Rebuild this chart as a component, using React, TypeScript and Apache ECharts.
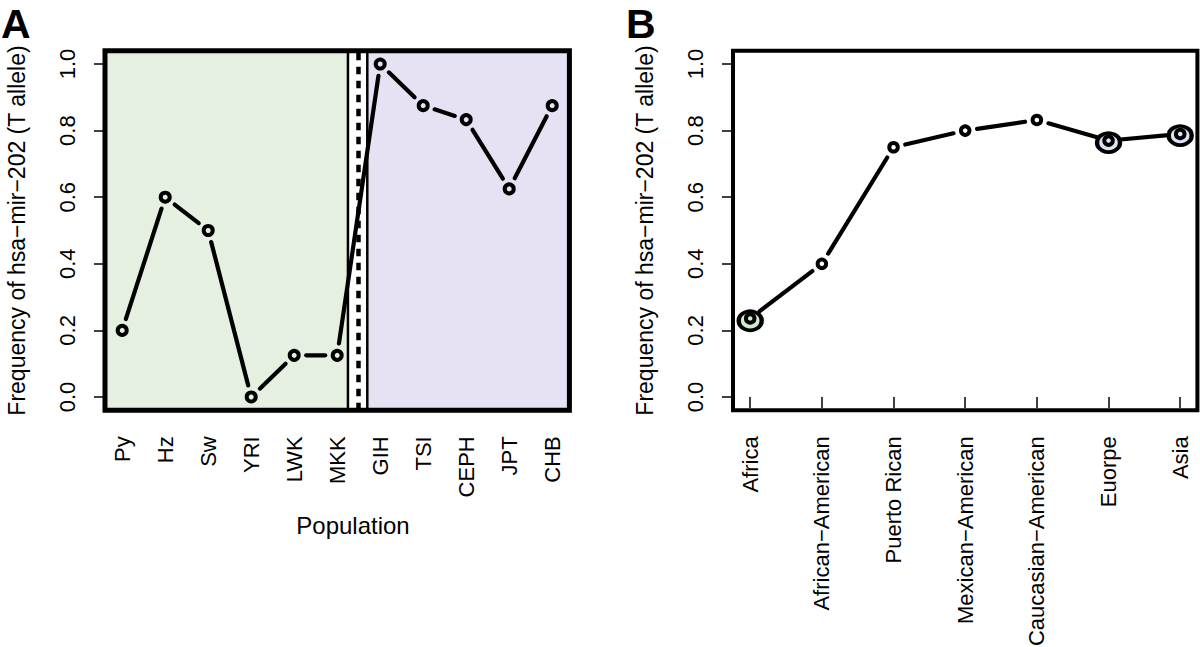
import React, { useEffect, useRef } from "react";
import * as echarts from "echarts";

// ---------- Data ----------
const populations = ["Py", "Hz", "Sw", "YRI", "LWK", "MKK", "GIH", "TSI", "CEPH", "JPT", "CHB"];
const populationFreq = [0.2, 0.6, 0.5, 0.0, 0.125, 0.125, 1.0, 0.875, 0.833, 0.625, 0.875];

const regions = ["Africa", "African\u2212American", "Puerto Rican", "Mexican\u2212American", "Caucasian\u2212American", "Euorpe", "Asia"];
const regionFreq = [0.236, 0.4, 0.75, 0.8, 0.832, 0.77, 0.79];
// highlighted (large) markers
const highlightIdx = [0, 5, 6];
const highlightFreq = [0.229, 0.764, 0.785];
const highlightFill = ["#CDEECB", "#DDE1F4", "#DDE1F4"];

const yTicks = [0, 0.2, 0.4, 0.6, 0.8, 1.0];

// region split in panel A (x in category units)
const africaEnd = 6.25;
const nonAfricaStart = 6.7;
const splitLine = 6.5;

// ---------- Layout ----------
const FONT = "Liberation Sans, Arial, Helvetica, sans-serif";
const GA = { left: 105, top: 50.7, width: 464.4, height: 359.6 };
const GB = { left: 733, top: 50.7, width: 464.4, height: 359.6 };
const GAP = 12;

function segRender(lineWidth: number) {
  return (params: any, api: any) => {
    const p1 = api.coord([api.value(0), api.value(1)]);
    const p2 = api.coord([api.value(2), api.value(3)]);
    const dx = p2[0] - p1[0];
    const dy = p2[1] - p1[1];
    const len = Math.hypot(dx, dy);
    if (len <= 2 * GAP) return null;
    const ux = dx / len;
    const uy = dy / len;
    return {
      type: "line",
      shape: { x1: p1[0] + ux * GAP, y1: p1[1] + uy * GAP, x2: p2[0] - ux * GAP, y2: p2[1] - uy * GAP },
      style: { stroke: "#000", lineWidth, lineCap: "round" },
    };
  };
}

function segments(vals: number[]) {
  const out: number[][] = [];
  for (let i = 0; i < vals.length - 1; i++) out.push([i + 1, vals[i], i + 2, vals[i + 1]]);
  return out;
}

const yAxisBase = (gridIndex: number) => ({
  type: "value",
  gridIndex,
  min: -0.04,
  max: 1.04,
  axisLine: { show: false },
  splitLine: { show: false },
  axisTick: { show: true, customValues: yTicks, length: 11, lineStyle: { color: "#000", width: 1.5 } },
  axisLabel: {
    customValues: yTicks,
    rotate: 90,
    margin: 27,
    color: "#000",
    fontSize: 22,
    fontFamily: FONT,
    formatter: (v: number) => v.toFixed(1),
  },
  name: "Frequency of hsa\u2212mir\u2212202 (T allele)",
  nameLocation: "middle",
  nameGap: 77,
  nameRotate: 90,
  nameTextStyle: { color: "#000", fontSize: 23, fontFamily: FONT },
});

const hollowPoint = { color: "rgba(0,0,0,0)", borderColor: "#000", borderWidth: 4, opacity: 1 };

export default function App() {
  const ref = useRef<HTMLDivElement>(null);
  useEffect(() => {
    if (!ref.current) return;
    const chart = echarts.init(ref.current, null, { renderer: "svg" });
    const xA = populations.map((_, i) => i + 1);
    const xB = regions.map((_, i) => i + 1);
    const option: any = {
      animation: false,
      backgroundColor: "#fff",
      grid: [
        { ...GA, containLabel: false, outerBoundsMode: "none" },
        { ...GB, containLabel: false, outerBoundsMode: "none" },
      ],
      xAxis: [
        {
          type: "value",
          gridIndex: 0,
          min: 0.6,
          max: 11.4,
          axisLine: { show: false },
          splitLine: { show: false },
          axisTick: { show: true, customValues: xA, length: 11, lineStyle: { color: "#000", width: 1.5 } },
          axisLabel: {
            customValues: xA,
            rotate: 90,
            margin: 26,
            color: "#000",
            fontSize: 22,
            fontFamily: FONT,
            formatter: (v: number) => populations[Math.round(v) - 1],
          },
        },
        {
          type: "value",
          gridIndex: 1,
          min: 0.76,
          max: 7.24,
          axisLine: { show: false },
          splitLine: { show: false },
          axisTick: { show: true, customValues: xB, length: 11, lineStyle: { color: "#000", width: 1.5 } },
          axisLabel: {
            customValues: xB,
            rotate: 90,
            margin: 26,
            color: "#000",
            fontSize: 22,
            fontFamily: FONT,
            formatter: (v: number) => regions[Math.round(v) - 1],
          },
        },
      ],
      yAxis: [yAxisBase(0), yAxisBase(1)],
      series: [
        {
          type: "scatter",
          xAxisIndex: 0,
          yAxisIndex: 0,
          data: [],
          silent: true,
          z: 1,
          markArea: {
            silent: true,
            data: [
              [
                { xAxis: 0.6, yAxis: -0.04, itemStyle: { color: "#E5F0E0", borderColor: "#000", borderWidth: 2.5, opacity: 1 } },
                { xAxis: africaEnd, yAxis: 1.04 },
              ],
              [
                { xAxis: nonAfricaStart, yAxis: -0.04, itemStyle: { color: "#E6E1F3", borderColor: "#000", borderWidth: 2.5, opacity: 1 } },
                { xAxis: 11.4, yAxis: 1.04 },
              ],
            ],
          },
          markLine: {
            silent: true,
            symbol: "none",
            label: { show: false },
            lineStyle: { color: "#000", width: 4.5, type: [7.5, 6.5], opacity: 1 },
            data: [{ xAxis: splitLine }],
          },
        },
        {
          type: "custom",
          xAxisIndex: 0,
          yAxisIndex: 0,
          z: 3,
          silent: true,
          clip: false,
          dimensions: ["x1", "y1", "x2", "y2"],
          encode: { x: [0, 2], y: [1, 3] },
          renderItem: segRender(4.2),
          data: segments(populationFreq),
        },
        {
          type: "scatter",
          xAxisIndex: 0,
          yAxisIndex: 0,
          z: 4,
          silent: true,
          symbol: "circle",
          symbolSize: 9,
          itemStyle: hollowPoint,
          data: populationFreq.map((v, i) => [i + 1, v]),
        },
        {
          type: "custom",
          xAxisIndex: 1,
          yAxisIndex: 1,
          z: 3,
          silent: true,
          clip: false,
          dimensions: ["x1", "y1", "x2", "y2"],
          encode: { x: [0, 2], y: [1, 3] },
          renderItem: segRender(4.2),
          data: segments(regionFreq),
        },
        {
          type: "scatter",
          xAxisIndex: 1,
          yAxisIndex: 1,
          z: 4,
          silent: true,
          symbol: "circle",
          symbolSize: [23, 19],
          data: highlightIdx.map((idx, k) => ({
            value: [idx + 1, highlightFreq[k]],
            itemStyle: { color: highlightFill[k], borderColor: "#000", borderWidth: 4, opacity: 1 },
          })),
        },
        {
          type: "scatter",
          xAxisIndex: 1,
          yAxisIndex: 1,
          z: 5,
          silent: true,
          symbol: "circle",
          symbolSize: 8.5,
          itemStyle: hollowPoint,
          data: regionFreq.map((v, i) => [i + 1, v]),
        },
      ],
      graphic: [
        {
          type: "rect",
          z: 100,
          silent: true,
          shape: { x: GA.left, y: GA.top, width: GA.width, height: GA.height },
          style: { fill: "none", stroke: "#000", lineWidth: 5 },
        },
        {
          type: "rect",
          z: 100,
          silent: true,
          shape: { x: GB.left, y: GB.top, width: GB.width, height: GB.height },
          style: { fill: "none", stroke: "#000", lineWidth: 4 },
        },
        {
          type: "text",
          left: 1,
          top: 3,
          style: { text: "A", font: `bold 41px ${FONT}`, fill: "#000" },
        },
        {
          type: "text",
          left: 626,
          top: 3,
          style: { text: "B", font: `bold 41px ${FONT}`, fill: "#000" },
        },
        {
          type: "text",
          x: 353,
          y: 525,
          style: {
            text: "Population",
            font: `24px ${FONT}`,
            fill: "#000",
            textAlign: "center",
            textVerticalAlign: "middle",
          },
        },
      ],
    };
    chart.setOption(option);
    return () => chart.dispose();
  }, []);
  return (
    <div
      ref={ref}
      style={{ position: "fixed", left: 0, top: 0, width: 1200, height: 647, background: "#fff" }}
    />
  );
}
